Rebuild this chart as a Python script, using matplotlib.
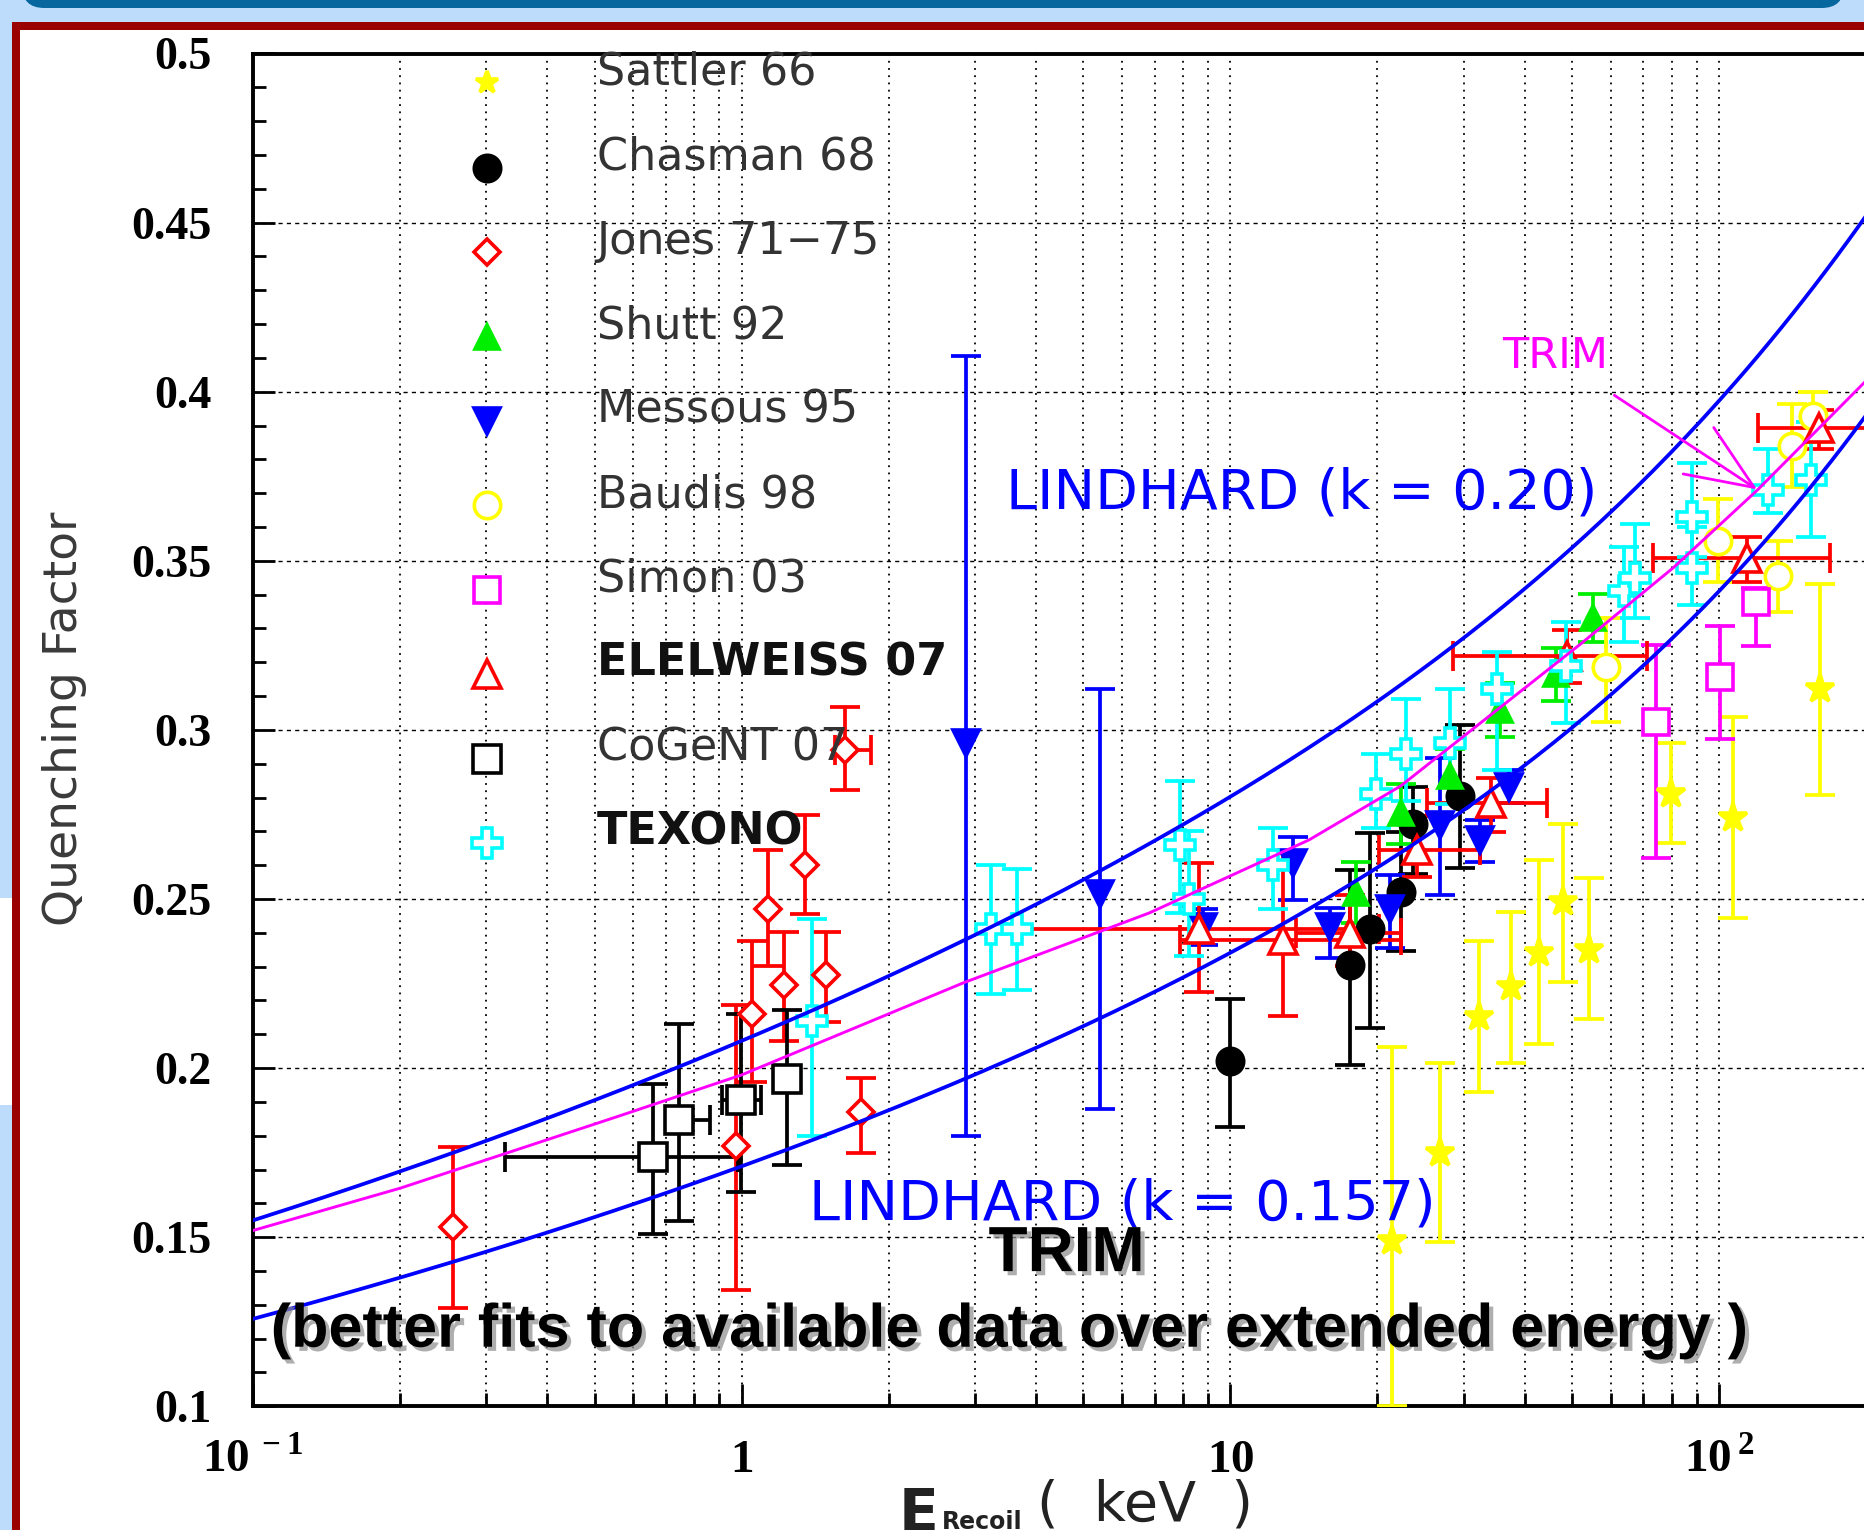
import numpy as np
import matplotlib
matplotlib.use('Agg')
import matplotlib.pyplot as plt
import matplotlib.patheffects as pe
from matplotlib.patches import Rectangle, FancyBboxPatch
from matplotlib.ticker import FixedLocator, FixedFormatter, LogLocator, MultipleLocator, NullFormatter

plt.rcParams['mathtext.fontset'] = 'custom'
plt.rcParams['mathtext.rm'] = 'Liberation Serif:bold'

W, H = 1864, 1530

#----------- measured quenching factors (E in keV, Q, lower, upper)
SATTLER_E  = [21.4, 26.8, 32.3, 37.5, 42.9, 48.0, 54.3, 79.9, 107, 161]
SATTLER_Q  = [0.149, 0.175, 0.215, 0.224, 0.234, 0.249, 0.235, 0.281, 0.274, 0.312]
SATTLER_LO = [0.100, 0.1485, 0.193, 0.2016, 0.207, 0.2255, 0.2146, 0.2667, 0.2445, 0.2807]
SATTLER_HI = [0.2062, 0.2016, 0.2375, 0.2463, 0.2614, 0.2723, 0.2561, 0.2962, 0.3039, 0.343]

CHASMAN_E  = [10.0, 17.6, 19.3, 22.3, 23.7, 29.5]
CHASMAN_Q  = [0.202, 0.2304, 0.241, 0.2522, 0.2723, 0.2804]
CHASMAN_LO = [0.1826, 0.2009, 0.2118, 0.2347, 0.2575, 0.2593]
CHASMAN_HI = [0.2203, 0.2586, 0.2695, 0.2698, 0.2832, 0.3015]

JONES_E   = [0.256, 0.972, 1.05, 1.13, 1.22, 1.35, 1.49, 1.63, 1.75]
JONES_Q   = [0.153, 0.177, 0.216, 0.247, 0.2245, 0.260, 0.2276, 0.294, 0.187]
JONES_LO  = [0.1292, 0.1345, 0.196, 0.2301, 0.2079, 0.2456, 0.2136, 0.2821, 0.175]
JONES_HI  = [0.1767, 0.2188, 0.2375, 0.2646, 0.2403, 0.2748, 0.2403, 0.3068, 0.197]
JONES_ELO = [0.256, 0.972, 1.05, 1.13, 1.22, 1.35, 1.49, 1.548, 1.75]
JONES_EHI = [0.256, 0.972, 1.05, 1.13, 1.22, 1.35, 1.49, 1.841, 1.75]

SHUTT_E  = [18.1, 22.3, 28.2, 35.7, 46.4, 55.2]
SHUTT_Q  = [0.2519, 0.2755, 0.2864, 0.306, 0.3166, 0.3331]
SHUTT_LO = [0.2428, 0.2663, 0.2783, 0.298, 0.3085, 0.3261]
SHUTT_HI = [0.261, 0.2839, 0.2944, 0.3138, 0.3243, 0.3402]

MESSOUS_E  = [2.87, 5.40, 8.79, 13.45, 16.0, 21.2, 26.8, 32.4, 37.1]
MESSOUS_Q  = [0.296, 0.2515, 0.2417, 0.2607, 0.2417, 0.247, 0.2719, 0.2674, 0.2832]
MESSOUS_LO = [0.180, 0.188, 0.2364, 0.2498, 0.2326, 0.2354, 0.2512, 0.261, 0.2783]
MESSOUS_HI = [0.4105, 0.312, 0.247, 0.2684, 0.2473, 0.2572, 0.2916, 0.2733, 0.2881]

BAUDIS_E  = [58.7, 99.4, 132, 141, 156]
BAUDIS_Q  = [0.3187, 0.356, 0.3454, 0.3838, 0.3929]
BAUDIS_LO = [0.3022, 0.3437, 0.3349, 0.3718, 0.3851]
BAUDIS_HI = [0.3331, 0.3683, 0.356, 0.3964, 0.3999]

SIMON_E  = [74.3, 100.6, 119]
SIMON_Q  = [0.3022, 0.3155, 0.3377]
SIMON_LO = [0.2621, 0.2973, 0.3247]
SIMON_HI = [0.325, 0.3307, 0.3419]

EDEL_E   = [8.64, 12.8, 17.6, 24.1, 34.1, 48.8, 114, 160]
EDEL_Q   = [0.241, 0.2378, 0.2399, 0.2646, 0.2783, 0.3219, 0.3507, 0.3894]
EDEL_LO  = [0.2224, 0.2153, 0.2301, 0.2565, 0.2698, 0.3138, 0.3437, 0.383]
EDEL_HI  = [0.2607, 0.2635, 0.2512, 0.2744, 0.2857, 0.3296, 0.357, 0.3947]
EDEL_ELO = [3.61, 7.90, 13.6, 20.1, 25.2, 28.5, 73.1, 120]
EDEL_EHI = [20.1, 22.3, 22.3, 32.4, 44.4, 71.1, 169, 237]

COGENT_E   = [0.657, 0.743, 0.994, 1.24]
COGENT_Q   = [0.1738, 0.1847, 0.1907, 0.1967]
COGENT_LO  = [0.151, 0.1549, 0.1633, 0.1714]
COGENT_HI  = [0.1953, 0.2129, 0.216, 0.2171]
COGENT_ELO = [0.328, 0.698, 0.909, 1.24]
COGENT_EHI = [0.98, 0.860, 1.094, 1.24]

TEXONO_E  = [1.39, 3.24, 3.65, 7.90, 8.22, 12.2, 19.9, 22.9, 28.2, 35.1, 48.6, 63.9, 67.2, 87.9, 87.9, 126, 154]
TEXONO_Q  = [0.214, 0.241, 0.241, 0.266, 0.250, 0.260, 0.281, 0.293, 0.296, 0.312, 0.319, 0.341, 0.345, 0.348, 0.363, 0.371, 0.374]
TEXONO_LO = [0.180, 0.222, 0.223, 0.246, 0.233, 0.247, 0.271, 0.279, 0.278, 0.288, 0.302, 0.326, 0.333, 0.337, 0.351, 0.364, 0.357]
TEXONO_HI = [0.244, 0.260, 0.259, 0.285, 0.270, 0.271, 0.293, 0.309, 0.312, 0.323, 0.332, 0.354, 0.361, 0.360, 0.379, 0.383, 0.391]

#----------- TRIM simulation curve
TRIM_E = [0.1, 0.2, 0.56, 1.0, 2.84, 6.83, 14.5, 22.3, 52.4, 80.7, 120, 198]
TRIM_Q = [0.152, 0.1645, 0.1858, 0.198, 0.2252, 0.2459, 0.2675, 0.2834, 0.3257, 0.348, 0.371, 0.4026]

#----------- Lindhard k values
K_UPPER = 0.20
K_LOWER = 0.157

LEG_LABELS = ['Sattler 66', 'Chasman 68', 'Jones 71\u221275', 'Shutt 92', 'Messous 95',
              'Baudis 98', 'Simon 03', 'ELELWEISS 07', 'CoGeNT 07', 'TEXONO']
YTICK_LABELS = ['0.1', '0.15', '0.2', '0.25', '0.3', '0.35', '0.4', '0.45', '0.5']


def lindhard(e, k, z=32):
    eps = 11.5 * z ** (-7. / 3.) * e
    g = 3. * eps ** 0.15 + 0.7 * eps ** 0.6 + eps
    return k * g / (1. + k * g)


fig = plt.figure(figsize=(W / 100., H / 100.), dpi=100)
fig.patch.set_facecolor('#bddcfb')


def fig_rect(x0, y0, x1, y1, **kw):
    # pixel box, y counted from the top
    r = Rectangle((x0 / W, 1 - y1 / H), (x1 - x0) / W, (y1 - y0) / H,
                  transform=fig.transFigure, zorder=-10, **kw)
    fig.patches.append(r)


# slide frame
bar = FancyBboxPatch((22 / W, 1 - 8 / H), 1822 / W, 40 / H,
                     boxstyle='round,pad=0,rounding_size=0.012', mutation_aspect=W / H,
                     transform=fig.transFigure, facecolor='#05679e', edgecolor='none', zorder=-10)
fig.patches.append(bar)
fig_rect(12, 22, 1900, 1560, facecolor='#9b0000', edgecolor='none')
fig_rect(20, 30, 1900, 1560, facecolor='white', edgecolor='none')
fig_rect(0, 898, 12, 1105, facecolor='white', edgecolor='none')

ax = fig.add_axes([253.2 / W, 123.7 / H, 1636.8 / W, 1352.8 / H])
ax.set_xscale('log')
ax.set_xlim(0.1, 10 ** 2.35)
ax.set_ylim(0.1, 0.5)
ax.set_axisbelow(True)
ax.patch.set_alpha(0)

for s in ['left', 'bottom', 'top', 'right']:
    ax.spines[s].set_linewidth(2.8)

ax.xaxis.set_major_locator(FixedLocator([0.1, 1, 10, 100]))
ax.xaxis.set_major_formatter(FixedFormatter([r'$10^{\,-1}$', r'$1$', r'$10$', r'$10^{\,2}$']))
ax.xaxis.set_minor_locator(LogLocator(base=10, subs=np.arange(2, 10), numticks=20))
ax.xaxis.set_minor_formatter(NullFormatter())
ax.yaxis.set_major_locator(FixedLocator(np.arange(0.1, 0.501, 0.05)))
ax.yaxis.set_major_formatter(FixedFormatter(YTICK_LABELS))
ax.yaxis.set_minor_locator(MultipleLocator(0.01))

ax.tick_params(which='both', direction='in', top=False, right=False)
ax.tick_params(which='major', length=16, width=2.0)
ax.tick_params(which='minor', length=9.5, width=2.0)
ax.tick_params(axis='y', which='major', pad=30, labelsize=33)
ax.tick_params(axis='x', which='major', pad=47, labelsize=34)
for lab in ax.get_yticklabels():
    lab.set_fontfamily('Liberation Serif')
    lab.set_fontweight('bold')
for lab in ax.get_xticklabels():
    lab.set_verticalalignment('baseline')

ax.xaxis.grid(True, which='both', ls=(0, (1, 3)), lw=1.3, color='black')
ax.yaxis.grid(True, which='major', ls=(0, (3, 3)), lw=1.0, color='black')

LW = 2.7


def draw_series(e, q, lo, hi, color, marker, ms, filled, elo=None, ehi=None, z=3):
    e = np.asarray(e); q = np.asarray(q)
    lo = np.asarray(lo); hi = np.asarray(hi)
    ax.errorbar(e, q, yerr=[q - lo, hi - q], fmt='none', ecolor=color,
                elinewidth=LW, capsize=11, capthick=LW, zorder=z)
    if elo is not None:
        elo = np.asarray(elo); ehi = np.asarray(ehi)
        m = (elo < e) | (ehi > e)
        ax.errorbar(e[m], q[m], xerr=[e[m] - elo[m], ehi[m] - e[m]], fmt='none',
                    ecolor=color, elinewidth=LW, capsize=11, capthick=LW, zorder=z)
    ax.plot(e, q, ls='none', marker=marker, ms=ms, mec=color,
            mfc=color if filled else 'white', mew=2.6, zorder=z + 0.1)


STYLES = [
    ('yellow', '*', 21, True),
    ('black', 'o', 19, True),
    ('red', 'D', 13, False),
    ('#00ee00', '^', 17, True),
    ('blue', 'v', 19, True),
    ('yellow', 'o', 19, False),
    ('magenta', 's', 19, False),
    ('red', '^', 20, False),
    ('black', 's', 20, False),
    ('cyan', 'P', 21, False),
]

draw_series(SATTLER_E, SATTLER_Q, SATTLER_LO, SATTLER_HI, *STYLES[0])
draw_series(CHASMAN_E, CHASMAN_Q, CHASMAN_LO, CHASMAN_HI, *STYLES[1])
draw_series(JONES_E, JONES_Q, JONES_LO, JONES_HI, *STYLES[2], elo=JONES_ELO, ehi=JONES_EHI)
draw_series(SHUTT_E, SHUTT_Q, SHUTT_LO, SHUTT_HI, *STYLES[3])
draw_series(MESSOUS_E, MESSOUS_Q, MESSOUS_LO, MESSOUS_HI, *STYLES[4])
draw_series(BAUDIS_E, BAUDIS_Q, BAUDIS_LO, BAUDIS_HI, *STYLES[5])
draw_series(SIMON_E, SIMON_Q, SIMON_LO, SIMON_HI, *STYLES[6])
draw_series(EDEL_E, EDEL_Q, EDEL_LO, EDEL_HI, *STYLES[7], elo=EDEL_ELO, ehi=EDEL_EHI)
draw_series(COGENT_E, COGENT_Q, COGENT_LO, COGENT_HI, *STYLES[8], elo=COGENT_ELO, ehi=COGENT_EHI)
draw_series(TEXONO_E, TEXONO_Q, TEXONO_LO, TEXONO_HI, *STYLES[9])

# model curves
egrid = np.logspace(-1, 2.4, 300)
ax.plot(egrid, lindhard(egrid, K_UPPER), color='blue', lw=2.7, zorder=5)
ax.plot(egrid, lindhard(egrid, K_LOWER), color='blue', lw=2.7, zorder=5)
ax.plot(TRIM_E, TRIM_Q, color='magenta', lw=2.1, zorder=5)

# legend, drawn by hand like the ROOT pad
for i, (lab, st) in enumerate(zip(LEG_LABELS, STYLES)):
    yy = 0.978 - 0.0624 * i
    color, marker, ms, filled = st
    ax.plot([0.1431], [yy], transform=ax.transAxes, ls='none', marker=marker,
            ms=ms * (0.8 if marker == '*' else 1.0), mec=color,
            mfc=color if filled else 'white', mew=2.6, clip_on=False, zorder=4)
    bold = lab in ('ELELWEISS 07', 'TEXONO')
    ax.text(0.2099, yy + 0.008, lab, transform=ax.transAxes, fontsize=32,
            family='DejaVu Sans', fontweight='bold' if bold else 'normal',
            color='#111111' if bold else '#333333', va='center', ha='left', zorder=4)

# labels on the plot
ax.text(14.0, 0.370, 'LINDHARD (k = 0.20)', fontsize=40, color='#0000ff',
        ha='center', va='center', zorder=6)
ax.text(6.01, 0.1598, 'LINDHARD (k = 0.157)', fontsize=40, color='#0000ff',
        ha='center', va='center', zorder=6)
ax.annotate('TRIM', xy=(119.7, 0.3711), xytext=(46.2, 0.4105), fontsize=31,
            color='magenta', ha='center', va='center', zorder=6,
            arrowprops=dict(arrowstyle='->,head_length=2.4,head_width=1.0', color='magenta',
                            lw=2.0, shrinkA=20, shrinkB=0, mutation_scale=20))

shadow = [pe.withSimplePatchShadow(offset=(3, -3), shadow_rgbFace=(0.55, 0.55, 0.55), alpha=0.7)]
ax.text(4.62, 0.145, 'TRIM', fontsize=46, fontweight='bold', family='Liberation Sans',
        ha='center', va='center', zorder=7, path_effects=shadow)
ax.text(3.53, 0.1222, '(better fits to available data over extended energy )', fontsize=44,
        fontweight='bold', family='Liberation Sans', ha='center', va='center', zorder=7,
        path_effects=shadow)

# axis titles
fig.text(65 / W, 1 - 719 / H, 'Quenching Factor', rotation=90, fontsize=34,
         family='DejaVu Sans', color='#3a3a3a', ha='center', va='center')
fig.text(899 / W, 1 - 1486 / H, 'E', fontsize=42, family='DejaVu Sans', fontweight='bold',
         color='#222222', ha='left', va='top')
fig.text(942 / W, 1 - 1510 / H, 'Recoil', fontsize=17, family='DejaVu Sans',
         fontweight='bold', color='#222222', ha='left', va='top')
fig.text(1037 / W, 1 - 1478 / H, '(  keV  )', fontsize=40, family='DejaVu Sans',
         color='#222222', ha='left', va='top')

fig.savefig('out.png', dpi=100, facecolor=fig.get_facecolor())
